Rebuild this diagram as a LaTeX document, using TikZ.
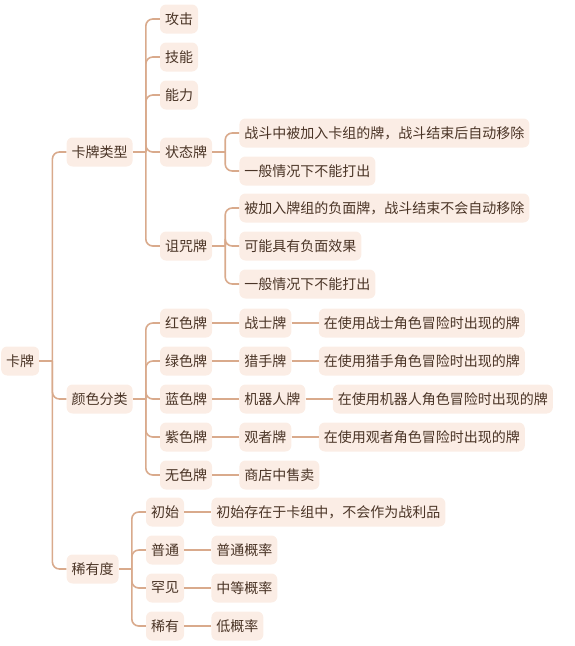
\documentclass[tikz,border=0pt]{standalone}
\usepackage{fontspec}
\setmainfont{Noto Sans CJK SC}
\usetikzlibrary{positioning}
\definecolor{twig}{HTML}{D9AA8C}
\definecolor{leaf}{HTML}{FBEDE5}
\definecolor{ink}{HTML}{4A3426}

\tikzset{
  card/.style={fill=leaf,text=ink,rounded corners=6pt,inner xsep=5pt,inner ysep=0pt,
    minimum height=29pt,font=\fontsize{14}{16}\selectfont},
  link/.style={twig,line width=1.6pt,rounded corners=7pt},
}

\begin{document}
\begin{tikzpicture}[x=1pt,y=-1pt,node distance=27pt]
  \useasboundingbox (0,0) rectangle (574,646);

  % root and the three main branches
  \node[card,anchor=west] (root) at (1,361) {卡牌};
  \node[card,right=of root,yshift=209pt] (kType) {卡牌类型};
  \node[card,right=of root,yshift=-38pt] (kColor) {颜色分类};
  \node[card,right=of root,yshift=-208pt] (kRare) {稀有度};

  % card types
  \node[card,right=of kType,yshift=133pt] (atk) {攻击};
  \node[card,right=of kType,yshift=95pt] (skl) {技能};
  \node[card,right=of kType,yshift=57pt] (pow) {能力};
  \node[card,right=of kType] (stat) {状态牌};
  \node[card,right=of kType,yshift=-94pt] (curse) {诅咒牌};

  \node[card,right=of stat,yshift=19pt] (statA) {战斗中被加入卡组的牌，战斗结束后自动移除};
  \node[card,right=of stat,yshift=-19pt] (statB) {一般情况下不能打出};

  \node[card,right=of curse,yshift=38pt] (curseA) {被加入牌组的负面牌，战斗结束不会自动移除};
  \node[card,right=of curse] (curseB) {可能具有负面效果};
  \node[card,right=of curse,yshift=-38pt] (curseC) {一般情况下不能打出};

  % colours
  \node[card,right=of kColor,yshift=76pt] (red) {红色牌};
  \node[card,right=of kColor,yshift=38pt] (green) {绿色牌};
  \node[card,right=of kColor] (blue) {蓝色牌};
  \node[card,right=of kColor,yshift=-38pt] (purple) {紫色牌};
  \node[card,right=of kColor,yshift=-76pt] (none) {无色牌};

  \node[card,right=of red] (redA) {战士牌};
  \node[card,right=of green] (greenA) {猎手牌};
  \node[card,right=of blue] (blueA) {机器人牌};
  \node[card,right=of purple] (purpleA) {观者牌};
  \node[card,right=of none] (noneA) {商店中售卖};

  \node[card,right=of redA] (redB) {在使用战士角色冒险时出现的牌};
  \node[card,right=of greenA] (greenB) {在使用猎手角色冒险时出现的牌};
  \node[card,right=of blueA] (blueB) {在使用机器人角色冒险时出现的牌};
  \node[card,right=of purpleA] (purpleB) {在使用观者角色冒险时出现的牌};

  % rarity
  \node[card,right=of kRare,yshift=57pt] (basic) {初始};
  \node[card,right=of kRare,yshift=19pt] (common) {普通};
  \node[card,right=of kRare,yshift=-19pt] (uncommon) {罕见};
  \node[card,right=of kRare,yshift=-57pt] (rare) {稀有};

  \node[card,right=of basic] (basicA) {初始存在于卡组中，不会作为战利品};
  \node[card,right=of common] (commonA) {普通概率};
  \node[card,right=of uncommon] (uncommonA) {中等概率};
  \node[card,right=of rare] (rareA) {低概率};

  % forks
  \draw[link] (root.east) -- ++(13pt,0);
  \foreach \c in {kType,kColor,kRare}
    \draw[link] ([xshift=13pt]root.east) |- (\c.west);

  \draw[link] (kType.east) -- ++(13pt,0);
  \foreach \c in {atk,skl,pow,stat,curse}
    \draw[link] ([xshift=13pt]kType.east) |- (\c.west);

  \draw[link] (stat.east) -- ++(13pt,0);
  \foreach \c in {statA,statB}
    \draw[link] ([xshift=13pt]stat.east) |- (\c.west);

  \draw[link] (curse.east) -- ++(13pt,0);
  \foreach \c in {curseA,curseB,curseC}
    \draw[link] ([xshift=13pt]curse.east) |- (\c.west);

  \draw[link] (kColor.east) -- ++(13pt,0);
  \foreach \c in {red,green,blue,purple,none}
    \draw[link] ([xshift=13pt]kColor.east) |- (\c.west);

  \draw[link] (kRare.east) -- ++(13pt,0);
  \foreach \c in {basic,common,uncommon,rare}
    \draw[link] ([xshift=13pt]kRare.east) |- (\c.west);

  % single links
  \foreach \a/\b in {red/redA,green/greenA,blue/blueA,purple/purpleA,none/noneA,
      redA/redB,greenA/greenB,blueA/blueB,purpleA/purpleB,
      basic/basicA,common/commonA,uncommon/uncommonA,rare/rareA}
    \draw[link] (\a.east) -- (\b.west);
\end{tikzpicture}
\end{document}
